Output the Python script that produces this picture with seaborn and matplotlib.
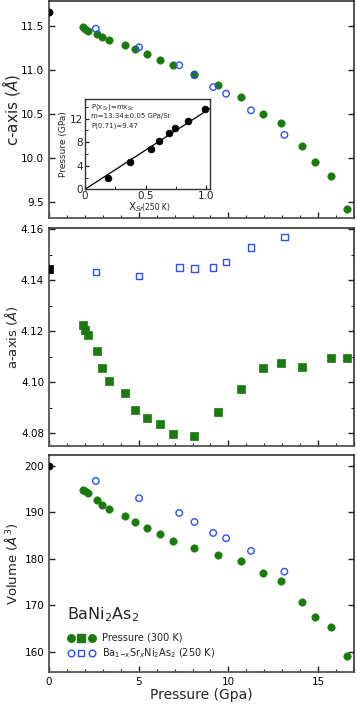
import numpy as np
import pandas as pd
import seaborn as sns
import matplotlib
matplotlib.use("Agg")
import matplotlib.pyplot as plt
from matplotlib.ticker import MultipleLocator
from matplotlib.lines import Line2D
from matplotlib.legend_handler import HandlerTuple

# ---------------- data ----------------
P_300 = [1.91, 1.98, 2.17, 2.65, 2.94, 3.37, 4.22, 4.82, 5.48, 6.19,
         6.89, 8.09, 9.41, 10.69, 11.95, 12.93, 14.08, 14.83, 15.71, 16.63]
c_300 = [11.480, 11.466, 11.444, 11.402, 11.376, 11.342, 11.282, 11.237, 11.181, 11.113,
         11.049, 10.958, 10.823, 10.695, 10.496, 10.394, 10.134, 9.950, 9.796, 9.423]
a_300 = [4.1225, 4.1205, 4.1184, 4.1123, 4.1055, 4.1006, 4.0957, 4.0893, 4.0859, 4.0838,
         4.0797, 4.0791, 4.0882, 4.0975, 4.1056, 4.1076, 4.1059, np.nan, 4.1094, 4.1094]
V_300 = [194.77, 194.56, 194.06, 192.69, 191.61, 190.62, 189.12, 187.83, 186.54, 185.25,
         183.80, 182.24, 180.80, 179.44, 176.86, 175.20, 170.75, 167.40, 165.31, 159.01]

P_Sr = [2.61, 5.02, 7.26, 8.11, 9.15, 9.87, 11.26, 13.12]
c_Sr = [11.466, 11.255, 11.052, 10.939, 10.804, 10.729, 10.541, 10.262]
a_Sr = [4.1433, 4.1417, 4.1451, 4.1446, 4.1451, 4.1472, 4.1529, 4.1569]
V_Sr = [196.71, 192.99, 189.83, 187.89, 185.53, 184.39, 181.66, 177.20]

P_0 = [0.0]
c_0 = [11.65]
a_0 = [4.1445]
V_0 = [200.0]

x_Sr_inset = [0.19, 0.373, 0.545, 0.61, 0.69, 0.742, 0.85, 0.992]
P_inset = [2.0, 4.56, 6.84, 8.26, 9.63, 10.37, 11.68, 13.62]
slope_m = 13.34

GREEN = "#1b7a0e"
BLUE = "#2f50ff"

sns.set_style("ticks")
plt.rcParams["font.family"] = ["DejaVu Sans"]
plt.rcParams["mathtext.fontset"] = "dejavusans"

fig = plt.figure(figsize=(3.57, 7.05), dpi=100)
L, R = 49 / 357, 354 / 357
H = 705.0
ax_c = fig.add_axes([L, 1 - 218 / H, R - L, 217 / H])
ax_a = fig.add_axes([L, 1 - 446 / H, R - L, 218 / H])
ax_v = fig.add_axes([L, 1 - 672 / H, R - L, 217 / H])

def draw(ax, y300, ySr, y0, marker):
    d300 = pd.DataFrame({"P": P_300, "y": y300})
    dSr = pd.DataFrame({"P": P_Sr, "y": ySr})
    d0 = pd.DataFrame({"P": P_0, "y": y0})
    s = 28 if marker == "o" else 26
    sns.scatterplot(data=d300, x="P", y="y", ax=ax, marker=marker, s=s,
                    color=GREEN, edgecolor=GREEN, linewidth=0.5, zorder=3)
    sns.scatterplot(data=dSr, x="P", y="y", ax=ax, marker=marker, s=22,
                    facecolor="none", edgecolor=BLUE, linewidth=1.0, zorder=4)
    sns.scatterplot(data=d0, x="P", y="y", ax=ax, marker=marker, s=26,
                    color="black", edgecolor="black", linewidth=0.5, zorder=4)

draw(ax_c, c_300, c_Sr, c_0, "o")
draw(ax_a, a_300, a_Sr, a_0, "s")
draw(ax_v, V_300, V_Sr, V_0, "o")

for ax in (ax_c, ax_a, ax_v):
    ax.set_xlim(0, 17)
    ax.xaxis.set_major_locator(MultipleLocator(5))
    ax.xaxis.set_minor_locator(MultipleLocator(1))
    ax.tick_params(which="both", direction="in", top=False, right=True,
                   labelsize=7.5, colors="#222222", labelcolor="black")
    ax.tick_params(which="major", length=4, width=1.0)
    ax.tick_params(which="minor", length=2.5, width=0.8)
    for side in ("left", "bottom"):
        ax.spines[side].set_color("#555555")
        ax.spines[side].set_linewidth(1.3)
    for side in ("top", "right"):
        ax.spines[side].set_visible(True)
        ax.spines[side].set_color("#222222")
        ax.spines[side].set_linewidth(1.1)
    ax.set_xlabel("")

axes_w_px = (R - L) * 357
lab_x = (11 - 49) / axes_w_px

ax_c.set_ylim(9.32, 11.78)
ax_c.yaxis.set_major_locator(MultipleLocator(0.5))
ax_c.set_ylabel(r"c-axis ($\mathit{\AA}$)", fontsize=11)
ax_c.tick_params(labelbottom=False)

ax_a.set_ylim(4.075, 4.1605)
ax_a.yaxis.set_major_locator(MultipleLocator(0.02))
ax_a.yaxis.set_minor_locator(MultipleLocator(0.01))
ax_a.yaxis.set_major_formatter(matplotlib.ticker.FormatStrFormatter("%.2f"))
ax_a.set_ylabel(r"a-axis ($\mathit{\AA}$)", fontsize=9.5)
ax_a.tick_params(labelbottom=False)

ax_v.set_ylim(155.6, 202.3)
ax_v.yaxis.set_major_locator(MultipleLocator(10))
ax_v.set_ylabel(r"Volume ($\mathit{\AA}^3$)", fontsize=9.5)
ax_v.set_xlabel("Pressure (Gpa)", fontsize=10, labelpad=1)

for ax in (ax_c, ax_a, ax_v):
    ax.yaxis.label.set_va("center")
    ax.yaxis.set_label_coords(lab_x, 0.5)

ax_v.text(1.0, 167.0, r"BaNi$_2$As$_2$", fontsize=11.5, va="baseline", ha="left")

h_g = (Line2D([], [], ls="none", marker="o", ms=5.4, color=GREEN),
       Line2D([], [], ls="none", marker="s", ms=5.2, color=GREEN),
       Line2D([], [], ls="none", marker="o", ms=5.4, color=GREEN))
h_b = (Line2D([], [], ls="none", marker="o", ms=4.8, mfc="none", mec=BLUE, mew=1.0),
       Line2D([], [], ls="none", marker="s", ms=4.6, mfc="none", mec=BLUE, mew=1.0),
       Line2D([], [], ls="none", marker="o", ms=4.8, mfc="none", mec=BLUE, mew=1.0))
ax_v.legend([h_g, h_b], ["Pressure (300 K)", r"Ba$_{1\mathsf{-x}}$Sr$_x$Ni$_2$As$_2$ (250 K)"],
            handler_map={tuple: HandlerTuple(ndivide=None, pad=0.25)},
            loc="lower left", bbox_to_anchor=(0.03, 0.015), frameon=False,
            fontsize=7, handlelength=3.0, handletextpad=0.6, labelspacing=0.35)

# ---------------- inset ----------------
ax_in = fig.add_axes([85 / 357, 1 - 189.3 / H, 125 / 357, 90 / H])
din = pd.DataFrame({"x": x_Sr_inset, "P": P_inset})
xfit = np.array([0.0, 1.03])
sns.lineplot(x=xfit, y=slope_m * xfit, ax=ax_in, color="black", linewidth=0.9)
sns.scatterplot(data=din, x="x", y="P", ax=ax_in, s=24, color="black",
                edgecolor="black", linewidth=0.5, zorder=3)
ax_in.set_xlim(0, 1.03)
ax_in.set_ylim(0, 15.3)
ax_in.xaxis.set_major_locator(MultipleLocator(0.5))
ax_in.xaxis.set_minor_locator(MultipleLocator(0.25))
ax_in.yaxis.set_major_locator(MultipleLocator(4))
ax_in.yaxis.set_minor_locator(MultipleLocator(2))
ax_in.xaxis.set_major_formatter(matplotlib.ticker.FuncFormatter(
    lambda v, p: "0" if abs(v) < 1e-9 else f"{v:.1f}"))
ax_in.tick_params(which="both", direction="in", labelsize=7.5, pad=1.5)
ax_in.tick_params(which="major", length=3, width=0.9)
ax_in.tick_params(which="minor", length=2, width=0.7)
for sp in ax_in.spines.values():
    sp.set_visible(True)
    sp.set_color("#333333")
    sp.set_linewidth(1.0)
ax_in.set_ylabel("Pressure (GPa)", fontsize=6.5, labelpad=1)
ax_in.set_xlabel(r"X$_{Sr}$", fontsize=7.5)
ax_in.xaxis.label.set_ha("left")
ax_in.xaxis.label.set_va("center")
ax_in.xaxis.set_label_coords(0.34, -0.20)
ax_in.text(0.57, -0.20, "(250 K)", transform=ax_in.transAxes, fontsize=5.5,
           ha="center", va="center")
ax_in.text(0.05, 0.91, r"P(x$_{Sr}$)=mx$_{Sr}$", transform=ax_in.transAxes,
           fontsize=5, va="center")
ax_in.text(0.05, 0.81, "m=13.34\u00b10.05 GPa/Sr", transform=ax_in.transAxes,
           fontsize=5, va="center")
ax_in.text(0.05, 0.71, "P(0.71)=9.47", transform=ax_in.transAxes,
           fontsize=5, va="center")

fig.savefig("out.png", dpi=100)
